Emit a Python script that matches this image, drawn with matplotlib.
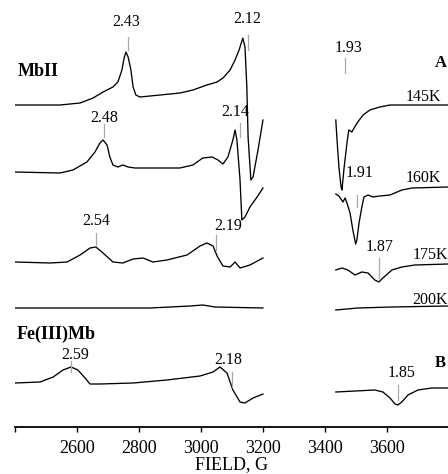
import matplotlib
matplotlib.use('Agg')
import matplotlib.pyplot as plt

plt.rcParams['font.family'] = ['Liberation Serif', 'DejaVu Serif']

# 各温度的谱线: 场强 (G) 与信号 (相对基线)
t145_lb = [2400, 2545, 2610, 2652, 2684, 2716, 2732, 2745, 2752, 2758, 2765, 2774, 2781, 2790, 2803,
           2868, 2932, 2974, 3019, 3052, 3071, 3094, 3110, 3123, 3135, 3142, 3148, 3152, 3161, 3168,
           3184, 3200]
t145_ls = [0, 0, 2, 7, 13, 18, 23, 35, 47, 53, 48, 35, 18, 10, 8,
           10, 12, 15, 20, 23, 27, 35, 45, 55, 67, 58, 18, -32, -75, -72,
           -45, -15]
t145_rb = [3435, 3439, 3445, 3452, 3455, 3461, 3471, 3477, 3487, 3494, 3506, 3523, 3545, 3577, 3610,
           3681, 3797]
t145_rs = [-15, -35, -62, -82, -85, -65, -38, -25, -27, -23, -17, -10, -5, -2, 0,
           0, 0]

t160_lb = [2400, 2545, 2587, 2632, 2658, 2674, 2684, 2697, 2706, 2716, 2732, 2748, 2765, 2787, 2868,
           2932, 2974, 3006, 3036, 3055, 3071, 3087, 3103, 3110, 3116, 3126, 3132, 3142, 3158, 3181,
           3200]
t160_ls = [0, -1, 2, 10, 20, 29, 32, 27, 15, 7, 5, 7, 5, 4, 4,
           4, 7, 14, 15, 12, 8, 15, 32, 42, 32, -8, -48, -45, -35, -25,
           -16]
t160_rb = [3435, 3445, 3458, 3465, 3471, 3481, 3490, 3499, 3503, 3510, 3519, 3526, 3539, 3555, 3577,
           3610, 3648, 3681, 3797]
t160_rs = [-22, -24, -30, -26, -31, -41, -58, -72, -68, -51, -35, -25, -23, -25, -24,
           -23, -18, -16, -15]

t175_lb = [2400, 2513, 2568, 2610, 2642, 2661, 2684, 2716, 2748, 2781, 2813, 2845, 2890, 2955, 2997,
           3019, 3039, 3052, 3071, 3094, 3110, 3126, 3158, 3200]
t175_ls = [0, -1, 0, 7, 14, 15, 9, 0, -1, 3, 4, 0, 2, 7, 16,
           19, 16, 6, -4, -5, 0, -6, -3, 4]
t175_rb = [3435, 3455, 3474, 3497, 3519, 3539, 3561, 3574, 3587, 3616, 3648, 3690, 3797]
t175_rs = [-8, -6, -8, -13, -10, -11, -18, -20, -16, -8, -5, -3, -2]

t200_lb = [2400, 2835, 2965, 3006, 3045, 3200]
t200_ls = [0, 0, 2, 3, 1, 0]
t200_rb = [3435, 3506, 3616, 3797]
t200_rs = [-2, 0, 1, 2]

fe_lb = [2400, 2481, 2523, 2555, 2581, 2603, 2626, 2642, 2674, 2781, 2890, 2997, 3039, 3061, 3084,
         3103, 3126, 3142, 3168, 3200]
fe_ls = [0, 1, 6, 13, 16, 13, 5, -1, -1, 0, 3, 7, 11, 16, 10,
         -7, -19, -20, -15, -11]
fe_rb = [3435, 3561, 3587, 3610, 3626, 3635, 3648, 3668, 3700, 3745, 3797]
fe_rs = [-9, -7, -9, -15, -21, -22, -19, -12, -7, -5, -5]

offsets = [322, 255, 165, 119, 44]
temps = ['145K', '160K', '175K', '200K']

# g 值标注: 文字, 竖线场强, 竖线下端, 竖线上端, 文字x, 文字y
g_text = ['2.43', '2.12', '2.48', '2.14', '2.54', '2.19', '2.59', '2.18', '1.93', '1.91', '1.87', '1.85']
g_field = [2765, 3152, 2687, 3126, 2661, 3048, 2581, 3100, 3465, 3503, 3574, 3635]
g_lo = [377, 377, 290, 290, 181, 177, 55, 40, 354, 220, 149, 27]
g_hi = [390, 392, 303, 304, 194, 192, 66, 55, 369, 232, 169, 42]
g_tx = [2758, 3148, 2687, 3110, 2661, 3087, 2593, 3087, 3477, 3513, 3577, 3648]
g_ty = [405, 408, 309, 315, 206, 201, 72, 67, 379, 254, 180, 54]

fig = plt.figure(figsize=(4.48, 4.74), dpi=100)
ax = fig.add_axes([15 / 448, 47 / 474, 433 / 448, 427 / 474])

segs = [(t145_lb, t145_ls, t145_rb, t145_rs), (t160_lb, t160_ls, t160_rb, t160_rs),
        (t175_lb, t175_ls, t175_rb, t175_rs), (t200_lb, t200_ls, t200_rb, t200_rs),
        (fe_lb, fe_ls, fe_rb, fe_rs)]
for (lb, ls, rb, rs), off in zip(segs, offsets):
    ax.plot(lb, [v + off for v in ls], color='black', lw=0.95)
    ax.plot(rb, [v + off for v in rs], color='black', lw=0.95)

for t, f, lo, hi, tx, ty in zip(g_text, g_field, g_lo, g_hi, g_tx, g_ty):
    ax.plot([f, f], [lo, hi], color='#aaaaaa', lw=0.9)
    ax.text(tx, ty, t, ha='center', va='center', fontsize=11.5)

temp_x = [3774, 3774, 3797, 3797]
temp_y = [330, 249, 172, 127]
for t, x, y in zip(temps, temp_x, temp_y):
    ax.text(x, y, t, ha='right', va='center', fontsize=11.5)

ax.text(2410, 355, 'MbII', fontsize=13, fontweight='bold', va='center')
ax.text(2406, 93, 'Fe(III)Mb', fontsize=13, fontweight='bold', va='center')
ax.text(3755, 364, 'A', fontsize=12, fontweight='bold', va='center')
ax.text(3755, 64, 'B', fontsize=12, fontweight='bold', va='center')

ax.set_xlim(2400, 3797)
ax.set_ylim(0, 427)
ax.set_xticks([2400, 2600, 2800, 3000, 3200, 3400, 3600])
ax.set_xticklabels(['', '2600', '2800', '3000', '3200', '3400', '3600'], fontsize=13)
ax.tick_params(axis='x', direction='out', length=3.5, width=1, pad=6)
ax.set_yticks([])
for s in ['top', 'left', 'right']:
    ax.spines[s].set_visible(False)
ax.spines['bottom'].set_linewidth(1.3)
ax.set_xlabel('FIELD, G', fontsize=13, labelpad=-1)

plt.savefig('out.png', dpi=100)
